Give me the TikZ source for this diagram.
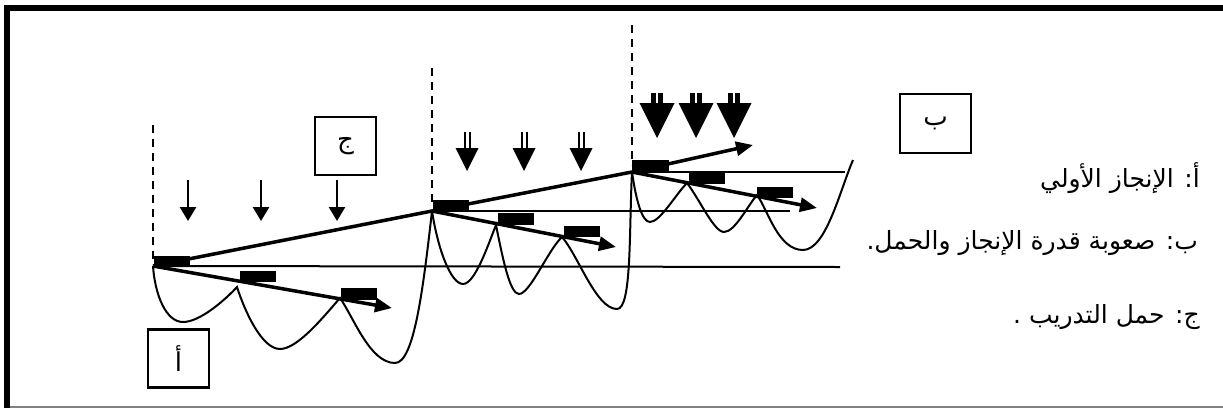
\documentclass[tikz,border=0pt]{standalone}
\usepackage{fontspec}
\setmainfont{Liberation Serif}
\newfontfamily\arabicfont[Script=Arabic]{DejaVu Sans}
\TeXXeTstate=1
\usetikzlibrary{arrows.meta}
\tikzset{
  frameline/.style={line width=6pt},
  thinline/.style={line width=2pt},
  curve/.style={line width=2pt},
  trend/.style={line width=3.5pt},
  trendarrow/.style={line width=3.5pt, -{Triangle[length=17pt,width=14pt]}},
  guide/.style={line width=2pt, dash pattern=on 8pt off 6pt},
  blk/.style={fill=black, draw=none},
  lbox/.style={draw, line width=2.2pt, minimum width=61pt, minimum height=58pt, inner sep=0pt, font=\arabicfont\fontsize{26}{30}\selectfont},
  legend/.style={anchor=east, inner sep=0pt, font=\arabicfont\fontsize{25}{30}\selectfont},
  smallarrow/.style={line width=2.5pt, -{Triangle[length=14pt,width=16pt]}}
}
\begin{document}
\begin{tikzpicture}[x=1pt,y=-1pt]
\fill[white] (0,0) rectangle (1223,408);
\useasboundingbox (0,0) rectangle (1223,408);
% frame
\draw[frameline] (4,8) -- (1223,8);
\draw[frameline] (7,5) -- (7,408);
\draw[line width=1.5pt, gray] (10,407) -- (1223,407);

% key points
\coordinate (s1) at (153,266);
\coordinate (s2) at (432,211);
\coordinate (s3) at (632,172);
\coordinate (e3) at (753,145);
\coordinate (d1) at (392,308);
\coordinate (d2) at (616,247);
\coordinate (d3) at (817,208);

% dashed guides
\draw[guide] (153,125) -- (153,262);
\draw[guide] (432,68) -- (432,205);
\draw[guide] (632,25) -- (632,165);

% horizontal reference lines
\coordinate (h1e) at (840,267);
\coordinate (h2e) at (790,211);
\coordinate (h3e) at (845,172);
\draw[thinline] (s1) -- (h1e);
\draw[thinline] (s2) -- (h2e);
\draw[thinline] (s3) -- (h3e);

% curves cycle 1
\draw[curve] (s1) .. controls (155,295) and (166,322) .. (183,322)
  .. controls (200,322) and (225,300) .. (237,287)
  .. controls (245,312) and (262,349) .. (280,349)
  .. controls (298,349) and (325,315) .. (340,298)
  .. controls (354,318) and (370,363) .. (395,363)
  .. controls (414,363) and (423,290) .. (s2);
% curves cycle 2
\draw[curve] (s2) .. controls (438,250) and (451,284) .. (463,284)
  .. controls (475,284) and (488,245) .. (496,225)
  .. controls (503,260) and (510,294) .. (519,294)
  .. controls (530,294) and (548,250) .. (562,237)
  .. controls (578,255) and (596,309) .. (617,309)
  .. controls (632,309) and (629,230) .. (s3);
% curves cycle 3
\draw[curve] (s3) .. controls (636,200) and (642,222) .. (650,222)
  .. controls (660,222) and (676,194) .. (687,183)
  .. controls (700,200) and (714,232) .. (724,232)
  .. controls (735,232) and (748,205) .. (757,195)
  .. controls (768,210) and (778,250) .. (803,250)
  .. controls (826,250) and (840,190) .. (853,160);

% trend lines
\draw[trend] (s1) -- (s2) -- (s3);
\draw[trendarrow] (s3) -- (e3);
\draw[trendarrow] (s1) -- (d1);
\draw[trendarrow] (s2) -- (d2);
\draw[trendarrow] (s3) -- (d3);

% black markers
\fill[blk] (154,256) rectangle (190,267);
\fill[blk] (240,271) rectangle (276,282);
\fill[blk] (341,288) rectangle (377,300);
\fill[blk] (433,200) rectangle (469,211);
\fill[blk] (498,213) rectangle (534,225);
\fill[blk] (564,226) rectangle (600,237);
\fill[blk] (632,160) rectangle (669,172);
\fill[blk] (689,172) rectangle (725,184);
\fill[blk] (757,187) rectangle (793,198);

% load arrows cycle 1
\foreach \x in {188,261,337} {
  \draw[smallarrow] (\x,180) -- (\x,221);
}
% load arrows cycle 2 (double shaft)
\foreach \x in {467,524,581} {
  \draw[line width=2pt] (\x-2.5,132) -- (\x-2.5,149) (\x+2.5,132) -- (\x+2.5,149);
  \fill (\x-11.5,148) -- (\x+11.5,148) -- (\x,171) -- cycle;
}
% load arrows cycle 3 (big)
\foreach \x in {657,696,734} {
  \fill (\x-6,93) rectangle (\x+6,104);
  \draw[white, line width=1.5pt] (\x,93) -- (\x,103);
  \fill (\x-17.5,103) -- (\x+17.5,103) -- (\x,138) -- cycle;
}

% label boxes
\node[lbox] (bj) at (345.5,146) {ج};
\node[lbox] (ba) at (178.5,358.5) {أ};
\node[lbox, minimum width=71pt, minimum height=59pt] (bb) at (935.5,123.5) {ب};

% legend
\node[legend] (la) at (1200,178) {\beginR أ:  الإنجاز الأولي\endR};
\node[legend] (lb) at (1198,243) {\beginR ب: صعوبة قدرة الإنجاز والحمل.\endR};
\node[legend] (lc) at (1200,317) {\beginR ج: حمل التدريب .\endR};
\end{tikzpicture}
\end{document}
